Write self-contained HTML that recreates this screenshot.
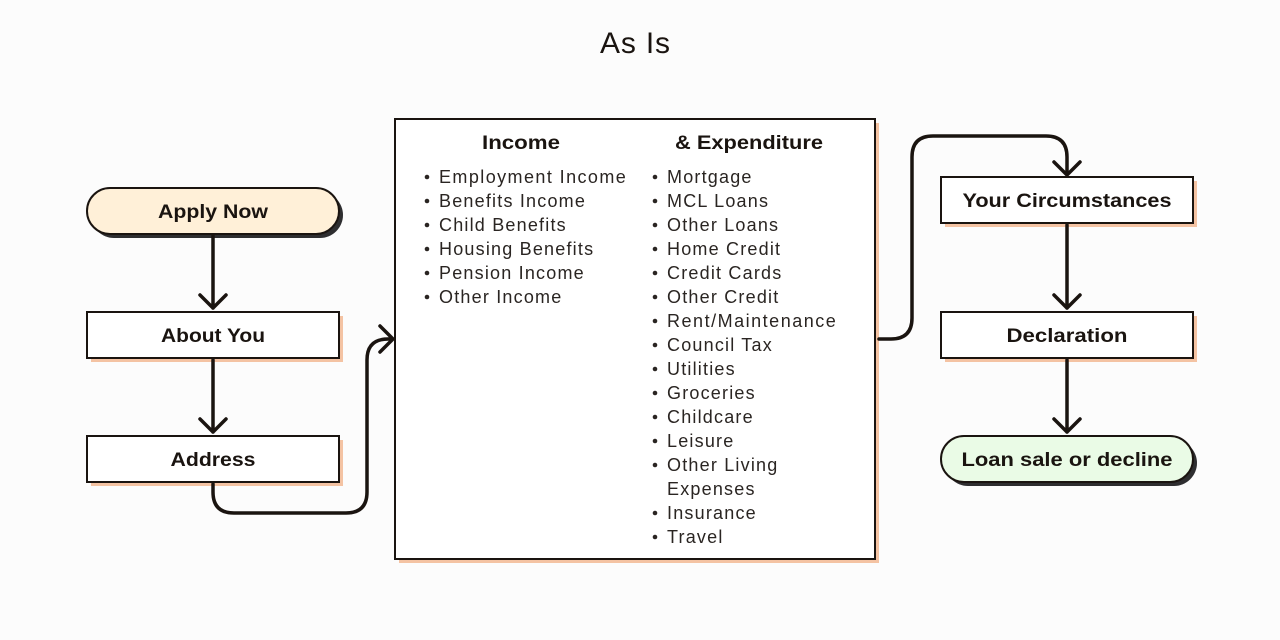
<!DOCTYPE html>
<html><head><meta charset="utf-8"><style>
html,body{margin:0;padding:0;background:#fcfcfc;}
svg{display:block;font-family:"Liberation Sans",sans-serif;}
.b{font-weight:bold;font-size:19px;fill:#1a1410;}
.t{font-size:18px;fill:#2a2522;letter-spacing:1.2px;}
.d circle{fill:#2a2522;}
.l{fill:none;stroke:#1a1410;stroke-width:3.5;stroke-linecap:round;stroke-linejoin:round;}
</style></head><body>
<svg width="1280" height="640" viewBox="0 0 1280 640">
<rect width="1280" height="640" fill="#fcfcfc"/>
<text x="635" y="53" text-anchor="middle" font-size="30" fill="#1a1410" textLength="70" lengthAdjust="spacing">As Is</text>

<rect x="399" y="123" width="480" height="440" fill="#f4c3a3"/>
<rect x="395" y="119" width="480" height="440" fill="#fff" stroke="#1a1410" stroke-width="2"/>
<text x="521" y="149" text-anchor="middle" class="b" textLength="78" lengthAdjust="spacingAndGlyphs">Income</text>
<text x="749" y="149" text-anchor="middle" class="b" textLength="148" lengthAdjust="spacingAndGlyphs">&amp; Expenditure</text>
<g class="d">
<circle cx="427" cy="177" r="2.3"/><circle cx="427" cy="201" r="2.3"/><circle cx="427" cy="225" r="2.3"/><circle cx="427" cy="249" r="2.3"/><circle cx="427" cy="273" r="2.3"/><circle cx="427" cy="297" r="2.3"/>
<circle cx="655" cy="177" r="2.3"/><circle cx="655" cy="201" r="2.3"/><circle cx="655" cy="225" r="2.3"/><circle cx="655" cy="249" r="2.3"/><circle cx="655" cy="273" r="2.3"/><circle cx="655" cy="297" r="2.3"/><circle cx="655" cy="321" r="2.3"/><circle cx="655" cy="345" r="2.3"/><circle cx="655" cy="369" r="2.3"/><circle cx="655" cy="393" r="2.3"/><circle cx="655" cy="417" r="2.3"/><circle cx="655" cy="441" r="2.3"/><circle cx="655" cy="465" r="2.3"/><circle cx="655" cy="513" r="2.3"/><circle cx="655" cy="537" r="2.3"/>
</g>
<g class="t">
<text x="439" y="183" textLength="188" lengthAdjust="spacing">Employment Income</text>
<text x="439" y="207">Benefits Income</text>
<text x="439" y="231">Child Benefits</text>
<text x="439" y="255">Housing Benefits</text>
<text x="439" y="279">Pension Income</text>
<text x="439" y="303">Other Income</text>
<text x="667" y="183">Mortgage</text>
<text x="667" y="207">MCL Loans</text>
<text x="667" y="231">Other Loans</text>
<text x="667" y="255">Home Credit</text>
<text x="667" y="279">Credit Cards</text>
<text x="667" y="303">Other Credit</text>
<text x="667" y="327" textLength="170" lengthAdjust="spacing">Rent/Maintenance</text>
<text x="667" y="351">Council Tax</text>
<text x="667" y="375">Utilities</text>
<text x="667" y="399">Groceries</text>
<text x="667" y="423">Childcare</text>
<text x="667" y="447">Leisure</text>
<text x="667" y="471">Other Living</text>
<text x="667" y="495">Expenses</text>
<text x="667" y="519">Insurance</text>
<text x="667" y="543">Travel</text>
</g>

<rect x="91" y="192" width="252" height="46" rx="23" fill="#2e2e30"/>
<rect x="87" y="188" width="252" height="46" rx="23" fill="#fff0d8" stroke="#1a1410" stroke-width="2"/>
<text x="213" y="218" text-anchor="middle" class="b" textLength="110" lengthAdjust="spacingAndGlyphs">Apply Now</text>

<rect x="91" y="316" width="252" height="46" fill="#f4c3a3"/>
<rect x="87" y="312" width="252" height="46" fill="#fff" stroke="#1a1410" stroke-width="2"/>
<text x="213" y="342" text-anchor="middle" class="b" textLength="104" lengthAdjust="spacingAndGlyphs">About You</text>

<rect x="91" y="440" width="252" height="46" fill="#f4c3a3"/>
<rect x="87" y="436" width="252" height="46" fill="#fff" stroke="#1a1410" stroke-width="2"/>
<text x="213" y="466" text-anchor="middle" class="b" textLength="85" lengthAdjust="spacingAndGlyphs">Address</text>

<rect x="945" y="181" width="252" height="46" fill="#f4c3a3"/>
<rect x="941" y="177" width="252" height="46" fill="#fff" stroke="#1a1410" stroke-width="2"/>
<text x="1067" y="207" text-anchor="middle" class="b" textLength="209" lengthAdjust="spacingAndGlyphs">Your Circumstances</text>

<rect x="945" y="316" width="252" height="46" fill="#f4c3a3"/>
<rect x="941" y="312" width="252" height="46" fill="#fff" stroke="#1a1410" stroke-width="2"/>
<text x="1067" y="342" text-anchor="middle" class="b" textLength="121" lengthAdjust="spacingAndGlyphs">Declaration</text>

<rect x="945" y="440" width="252" height="46" rx="23" fill="#2e2e30"/>
<rect x="941" y="436" width="252" height="46" rx="23" fill="#eafbe6" stroke="#1a1410" stroke-width="2"/>
<text x="1067" y="466" text-anchor="middle" class="b" textLength="211" lengthAdjust="spacingAndGlyphs">Loan sale or decline</text>

<path class="l" d="M213 236 V308 M200 295 L213 308 L226 295"/>
<path class="l" d="M213 360 V432 M200 419 L213 432 L226 419"/>
<path class="l" d="M213 484 V492 Q213 513 234 513 H346 Q367 513 367 492 V360 Q367 339 388 339 H393 M380 326 L393 339 L380 352"/>
<path class="l" d="M879 339 H891 Q912 339 912 318 V157 Q912 136 933 136 H1046 Q1067 136 1067 157 V175 M1054 162 L1067 175 L1080 162"/>
<path class="l" d="M1067 225 V308 M1054 295 L1067 308 L1080 295"/>
<path class="l" d="M1067 360 V432 M1054 419 L1067 432 L1080 419"/>
</svg>
</body></html>
